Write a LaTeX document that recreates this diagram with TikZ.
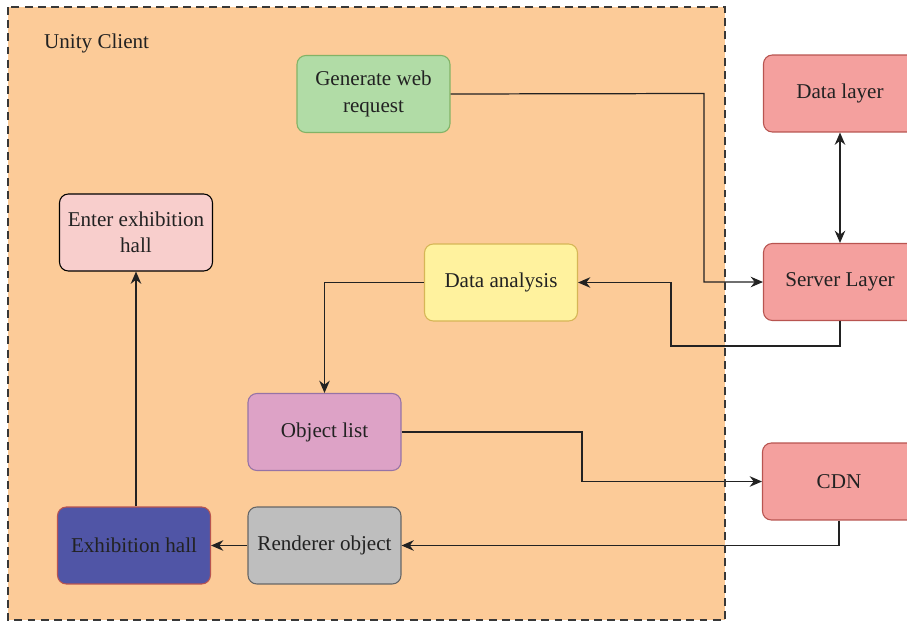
\documentclass[tikz,border=0pt]{standalone}
\usepackage{fontspec}
\setmainfont{Liberation Serif}
\usetikzlibrary{shapes,arrows,arrows.meta,positioning}

\definecolor{clientbg}{HTML}{FCCB98}
\definecolor{greenfill}{HTML}{B1DCA6}
\definecolor{greenline}{HTML}{82B366}
\definecolor{pinkfill}{HTML}{F8CECC}
\definecolor{yellowfill}{HTML}{FFF29E}
\definecolor{yellowline}{HTML}{D6B656}
\definecolor{redfill}{HTML}{F4A09E}
\definecolor{redline}{HTML}{B85450}
\definecolor{purplefill}{HTML}{DDA2C6}
\definecolor{purpleline}{HTML}{9673A6}
\definecolor{grayfill}{HTML}{BEBEBE}
\definecolor{grayline}{HTML}{666666}
\definecolor{bluefill}{HTML}{5055A6}
\definecolor{textcol}{HTML}{222222}

\tikzset{
  block/.style={rectangle, rounded corners=5pt, minimum width=3.06cm,
    minimum height=1.54cm, align=center,
    font=\fontsize{12}{15}\selectfont, text=textcol, line width=0.6pt},
  arr/.style={-{Stealth[length=7pt,width=6pt]}, line width=0.7pt, draw=textcol}
}

\begin{document}
\begin{tikzpicture}[x=0.02cm, y=-0.02cm]
  \useasboundingbox (0,0) rectangle (907,622);

  % unity client area
  \fill[clientbg] (8,7) rectangle (725,620);
  \node[anchor=west, font=\fontsize{12}{15}\selectfont, text=textcol] (unity) at (38,43) {Unity Client};

  % blocks
  \node[block, fill=greenfill, draw=greenline] (genreq) at (373.5,94) {Generate web\\request};
  \node[block, fill=pinkfill, draw=black] (enter) at (136,232.5) {Enter exhibition\\hall};
  \node[block, fill=yellowfill, draw=yellowline] (analysis) at (501,282.5) {Data analysis};
  \node[block, fill=purplefill, draw=purpleline] (objlist) at (324.5,432) {Object list};
  \node[block, fill=grayfill, draw=grayline] (render) at (324.5,545.5) {Renderer object};
  \node[block, fill=bluefill, draw=redline] (hall) at (134,545.5) {Exhibition hall};

  \node[block, fill=redfill, draw=redline] (datalayer) at (840,93.5) {Data layer};
  \node[block, fill=redfill, draw=redline] (server) at (840,282) {Server Layer};
  \node[block, fill=redfill, draw=redline] (cdn) at (839,481.5) {CDN};

  % connections
  \draw[arr] (genreq.east) -- (704,93.5) |- (server.west);
  \draw[{Stealth[length=7pt,width=6pt]}-{Stealth[length=7pt,width=6pt]}, line width=0.7pt, draw=textcol] (datalayer.south) -- (server.north);
  \draw[arr] (server.south) |- (671,346) |- (analysis.east);
  \draw[arr] (analysis.west) -| (objlist.north);
  \draw[arr] (objlist.east) -| (582,481.5) -- (cdn.west);
  \draw[arr] (cdn.south) |- (render.east);
  \draw[arr] (render.west) -- (hall.east);
  \draw[arr] (hall.north -| enter.south) -- (enter.south);

  \draw[dash pattern=on 4.5pt off 3pt, line width=0.8pt, draw=textcol!90] (8,7) rectangle (725,620);
\end{tikzpicture}
\end{document}
